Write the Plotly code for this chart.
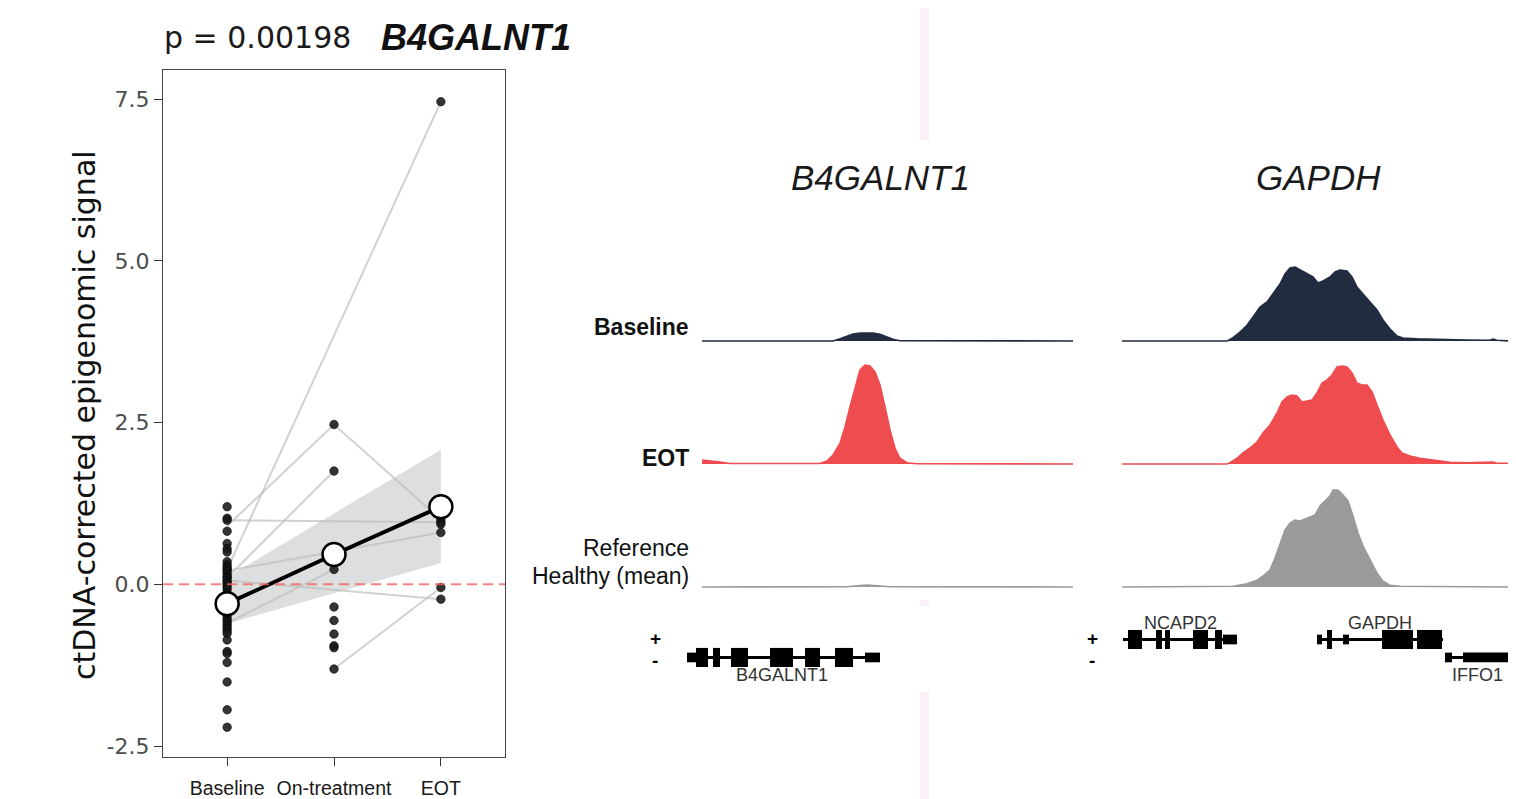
import plotly.graph_objects as go

# ---------------- data: left panel ----------------
timepoints = ["Baseline", "On-treatment", "EOT"]
baseline_signal = [1.20, 1.02, 0.99, 0.82, 0.63, 0.55, 0.50, 0.35, 0.30, 0.26, 0.23, 0.20,
                   0.16, 0.12, 0.10, 0.06, 0.03, 0.00, -0.04, -0.08, -0.14, -0.20, -0.40,
                   -0.47, -0.52, -0.56, -0.60, -0.64, -0.68, -0.72, -0.76, -0.86, -1.04,
                   -1.07, -1.21, -1.51, -1.94, -2.21]
ontreatment_signal = [2.47, 1.75, 0.45, 0.23, -0.35, -0.56, -0.77, -0.95, -0.98, -1.31]
eot_signal = [7.46, 1.00, 0.96, 0.93, 0.80, -0.05, -0.23]
group_means = [-0.30, 0.46, 1.20]
ci_lower = [-0.61, -0.14, 0.33]
ci_upper = [0.11, 1.10, 2.08]
# paired samples per patient: (Baseline, On-treatment, EOT), None = not sampled
patient_paths = [
    (0.23, None, 7.46),
    (0.90, 2.47, 1.00),
    (0.10, 1.75, None),
    (0.99, None, 0.96),
    (0.06, None, -0.23),
    (None, -1.31, -0.05),
    (0.21, None, 0.80),
    (-0.60, 0.23, None),
]
p_value_text = "p = 0.00198"
gene_of_interest = "B4GALNT1"

# ---------------- data: coverage tracks ----------------
b4_pos_baseline = [0, 131, 138, 145, 151, 158, 165, 171, 178, 185, 191, 198, 371]
b4_baseline = [0, 0, 2.3, 5, 7, 8, 8.3, 8, 6.7, 4.3, 1.7, 0.3, 0]
b4_pos_eot = [0, 8, 18, 28, 118, 125, 131, 138, 143, 148, 153, 158, 163, 168, 173, 178,
              183, 188, 193, 198, 205, 215, 371]
b4_eot = [4, 3.3, 2, 0.5, 0.5, 3, 9, 20.7, 37, 57, 77, 94, 99, 98, 92, 79, 57, 34, 15.7,
          5.7, 1.3, 0.3, 0]
b4_pos_ref = [0, 145, 155, 165, 175, 188, 371]
b4_ref = [0, 0.3, 1.3, 2, 1.3, 0.3, 0]

gapdh_pos_baseline = [0, 105, 108, 111, 118, 125, 131, 138, 145, 151, 158, 163, 168, 173,
                      178, 185, 191, 196, 201, 208, 213, 218, 225, 230, 235, 241, 248, 255,
                      261, 268, 275, 281, 295, 312, 345, 368, 371, 375, 388]
gapdh_baseline = [0, 0, 1.5, 3.3, 9, 15.7, 24, 34, 39, 47, 57, 67, 73, 74, 71, 67, 64, 58,
                  60, 64, 69, 71, 70, 64, 54, 47, 39, 31, 21, 12, 5, 3, 2.3, 1.7, 1, 0.7,
                  2, 0.7, 0]
gapdh_pos_eot = [0, 105, 108, 115, 121, 128, 135, 141, 148, 155, 160, 165, 170, 175, 180,
                 185, 190, 195, 200, 205, 210, 215, 220, 225, 230, 235, 240, 245, 250, 255,
                 261, 268, 275, 280, 288, 298, 312, 328, 345, 368, 371, 375, 388]
gapdh_eot = [0, 0, 1.3, 5.7, 11, 16, 22, 31, 39, 51, 62, 67, 69, 68, 62, 63, 64, 71, 81,
             84, 89, 97, 98, 97, 91, 81, 79, 79, 72, 59, 44, 29, 17, 11, 8, 5.7, 4, 1.7,
             1.3, 1.3, 2, 0.7, 0.7]
gapdh_pos_ref = [0, 105, 111, 125, 135, 141, 148, 153, 158, 163, 168, 173, 178, 183, 188,
                 193, 198, 203, 208, 211, 216, 221, 226, 231, 236, 241, 248, 255, 261, 268,
                 278, 388]
gapdh_ref = [0, 0, 0.7, 3.3, 6.7, 11, 17, 29, 44, 57, 64, 67, 66, 68, 70, 72, 81, 86, 91,
             97, 97, 92, 86, 71, 54, 41, 27, 14, 5.7, 1.7, 0.7, 0]

track_rows = ["Baseline", "EOT", "Reference"]
track_colors = {"Baseline": "#222c41", "EOT": "#ef4c50", "Reference": "#9a9a9a"}

# ---------------- data: gene models ----------------
genes_b4 = [
    dict(name="B4GALNT1", strand="-", start=-15, end=178,
         exons=[(-6, 6), (11, 18), (29, 46), (68, 91), (103, 118), (133, 151)],
         utrs=[(-15, -6), (163, 178)], label_pos=80),
]
genes_gapdh = [
    dict(name="NCAPD2", strand="+", start=1, end=115,
         exons=[(6, 20), (34, 40), (43, 48), (71, 86), (93, 100)],
         utrs=[(101, 115)], label_pos=58),
    dict(name="GAPDH", strand="+", start=195, end=321,
         exons=[(205, 210), (260, 291), (295, 320)],
         utrs=[(195, 200), (221, 227)], label_pos=258),
    dict(name="IFFO1", strand="-", start=323, end=388,
         exons=[], utrs=[(323, 330), (341, 388)], label_pos=355),
]

# ---------------- layout helpers ----------------
W, H = 1516, 799
OFF = 8  # page body margin


def fx(p):
    return (p - OFF) / W


def fy(p):
    return 1 - (p - OFF) / H


SANS = "Liberation Sans, Arial, Helvetica, sans-serif"
DEJAVU = "DejaVu Sans, sans-serif"

fig = go.Figure()
shapes = []
annotations = []

# ---------------- left panel ----------------
xpos = [1, 2, 3]
fig.add_trace(go.Scatter(x=xpos + xpos[::-1], y=ci_upper + ci_lower[::-1], fill="toself",
                         fillcolor="rgba(205,205,205,0.65)", line=dict(width=0),
                         mode="lines", hoverinfo="skip", xaxis="x", yaxis="y"))
for path in patient_paths:
    fig.add_trace(go.Scatter(x=xpos, y=list(path), mode="lines", connectgaps=True,
                             line=dict(color="rgba(190,190,190,0.7)", width=2),
                             xaxis="x", yaxis="y"))
for i, vals in enumerate([baseline_signal, ontreatment_signal, eot_signal]):
    fig.add_trace(go.Scatter(x=[xpos[i]] * len(vals), y=vals, mode="markers",
                             marker=dict(size=8.5, color="rgba(25,25,25,0.88)",
                                         line=dict(width=0.6, color="black")),
                             xaxis="x", yaxis="y"))
fig.add_trace(go.Scatter(x=xpos, y=group_means, mode="lines+markers",
                         line=dict(color="black", width=4),
                         marker=dict(size=23, color="white", line=dict(width=2.5, color="black")),
                         xaxis="x", yaxis="y"))
shapes.append(dict(type="line", xref="x", yref="y", x0=0.4, x1=3.6, y0=0, y1=0,
                   line=dict(color="rgba(240,100,100,0.8)", width=2, dash="10px,6px")))

# ---------------- tracks ----------------
track_data = {
    "b4": [(b4_pos_baseline, b4_baseline), (b4_pos_eot, b4_eot), (b4_pos_ref, b4_ref)],
    "gapdh": [(gapdh_pos_baseline, gapdh_baseline), (gapdh_pos_eot, gapdh_eot),
              (gapdh_pos_ref, gapdh_ref)],
}
row_base_px = [341, 464, 587]
col_dom = {"b4": (702, 1073, 371), "gapdh": (1122, 1510, 388)}

layout_axes = {}
ax = 2
for col in ["b4", "gapdh"]:
    x0, x1, xmax = col_dom[col]
    for r, row in enumerate(track_rows):
        pos, vals = track_data[col][r]
        c = track_colors[row]
        fig.add_trace(go.Scatter(x=pos, y=vals, mode="lines", fill="tozeroy", fillcolor=c,
                                 line=dict(color=c, width=1.6), xaxis=f"x{ax}", yaxis=f"y{ax}"))
        b = row_base_px[r]
        layout_axes[f"xaxis{ax}"] = dict(domain=[fx(x0), fx(x1)], range=[0, xmax], visible=False,
                                        anchor=f"y{ax}", fixedrange=True, automargin=False)
        layout_axes[f"yaxis{ax}"] = dict(domain=[fy(b + 2), fy(b - 110)], range=[-2, 110],
                                        visible=False, anchor=f"x{ax}", fixedrange=True,
                                        automargin=False)
        ax += 1

# ---------------- gene annotation panels ----------------
gene_panels = [("x8", "y8", genes_b4, (640, 1073), (-62, 371), -47),
               ("x9", "y9", genes_gapdh, (1080, 1510), (-42, 388), -30)]
for xa, ya, genes, (d0, d1), (r0, r1), strand_x in gene_panels:
    n = xa[1:]
    layout_axes[f"xaxis{n}"] = dict(domain=[fx(d0), fx(d1)], range=[r0, r1], visible=False,
                                   anchor=ya, fixedrange=True, automargin=False)
    layout_axes[f"yaxis{n}"] = dict(domain=[fy(690), fy(610)], range=[-1.81, 2.64],
                                   visible=False, anchor=xa, fixedrange=True, automargin=False)
    fig.add_trace(go.Scatter(x=[r0, r1], y=[0, 0], mode="markers", marker=dict(opacity=0),
                             xaxis=xa, yaxis=ya, hoverinfo="skip"))
    for sym, lv in (("+", 1.08), ("-", -0.16)):
        annotations.append(dict(xref=xa, yref=ya, x=strand_x, y=lv, text=f"<b>{sym}</b>",
                                showarrow=False,
                                font=dict(family=SANS, size=19, color="black"),
                                xanchor="center", yanchor="middle"))
    for g in genes:
        lv = 1 if g["strand"] == "+" else 0
        shapes.append(dict(type="line", xref=xa, yref=ya, x0=g["start"], x1=g["end"],
                           y0=lv, y1=lv, line=dict(color="black", width=3)))
        for a, b in g["utrs"]:
            shapes.append(dict(type="rect", xref=xa, yref=ya, x0=a, x1=b, y0=lv - 0.27,
                               y1=lv + 0.27, fillcolor="black", line=dict(width=0)))
        for a, b in g["exons"]:
            shapes.append(dict(type="rect", xref=xa, yref=ya, x0=a, x1=b, y0=lv - 0.53,
                               y1=lv + 0.53, fillcolor="black", line=dict(width=0)))
        ly = lv + 0.92 if g["strand"] == "+" else lv - 0.97
        annotations.append(dict(xref=xa, yref=ya, x=g["label_pos"], y=ly, text=g["name"],
                                showarrow=False, font=dict(family=SANS, size=18, color="#333333"),
                                xanchor="center", yanchor="middle"))

# ---------------- text ----------------
annotations += [
    dict(xref="paper", yref="paper", x=fx(162), y=fy(38), text=p_value_text, showarrow=False,
         xanchor="left", yanchor="middle", font=dict(family=DEJAVU, size=30, color="#1a1a1a")),
    dict(xref="paper", yref="paper", x=fx(379), y=fy(38), text=f"<b><i>{gene_of_interest}</i></b>",
         showarrow=False, xanchor="left", yanchor="middle",
         font=dict(family=SANS, size=36, color="#111111")),
    dict(xref="paper", yref="paper", x=fx(84), y=fy(415), text="ctDNA-corrected epigenomic signal",
         textangle=-90, showarrow=False, xanchor="center", yanchor="middle",
         font=dict(family=DEJAVU, size=30, color="#111111")),
    dict(xref="paper", yref="paper", x=fx(880), y=fy(178), text="<i>B4GALNT1</i>", showarrow=False,
         xanchor="center", yanchor="middle", font=dict(family=SANS, size=35, color="#1a1a1a")),
    dict(xref="paper", yref="paper", x=fx(1318), y=fy(178), text="<i>GAPDH</i>", showarrow=False,
         xanchor="center", yanchor="middle", font=dict(family=SANS, size=35, color="#1a1a1a")),
    dict(xref="paper", yref="paper", x=fx(691), y=fy(327), text="<b>Baseline</b>", showarrow=False,
         xanchor="right", yanchor="middle", font=dict(family=SANS, size=23, color="#111111")),
    dict(xref="paper", yref="paper", x=fx(691), y=fy(458), text="<b>EOT</b>", showarrow=False,
         xanchor="right", yanchor="middle", font=dict(family=SANS, size=23, color="#111111")),
    dict(xref="paper", yref="paper", x=fx(691), y=fy(548), text="Reference", showarrow=False,
         xanchor="right", yanchor="middle", font=dict(family=SANS, size=23, color="#111111")),
    dict(xref="paper", yref="paper", x=fx(691), y=fy(576), text="Healthy (mean)", showarrow=False,
         xanchor="right", yanchor="middle", font=dict(family=SANS, size=23, color="#111111")),
]

# faint separator stripes
for y0, y1 in ((8, 140), (600, 606), (692, 799)):
    shapes.append(dict(type="rect", xref="paper", yref="paper", x0=fx(920), x1=fx(929),
                       y0=fy(y1), y1=fy(y0), fillcolor="#fcf0f8", line=dict(width=0),
                       layer="below"))

fig.update_layout(
    template="none",
    width=W, height=H, autosize=False, margin=dict(l=0, r=0, t=0, b=0, autoexpand=False),
    paper_bgcolor="white", plot_bgcolor="rgba(0,0,0,0)", showlegend=False,
    xaxis=dict(domain=[fx(163), fx(505)], range=[0.4, 3.6], tickvals=xpos, ticktext=timepoints,
               showgrid=False, zeroline=False, showline=True, mirror=True, linecolor="#444444",
               linewidth=1.3, ticks="outside", ticklen=8, tickwidth=1.3, tickcolor="#333333",
               tickangle=0, automargin=False, ticklabelstandoff=5,
               tickfont=dict(family=SANS, size=19.5, color="#1a1a1a"), anchor="y",
               fixedrange=True),
    yaxis=dict(domain=[fy(757), fy(70)], range=[-2.67, 7.95],
               tickvals=[-2.5, 0, 2.5, 5, 7.5], ticktext=["-2.5", "0.0", "2.5", "5.0", "7.5"],
               showgrid=False, zeroline=False, showline=True, mirror=True, linecolor="#444444",
               linewidth=1.3, ticks="outside", ticklen=8, tickwidth=1.3, tickcolor="#333333",
               automargin=False,
               tickfont=dict(family=DEJAVU, size=22, color="#4d4d4d"), anchor="x",
               fixedrange=True),
    shapes=shapes, annotations=annotations, **layout_axes,
)

fig.write_html("out.html")
